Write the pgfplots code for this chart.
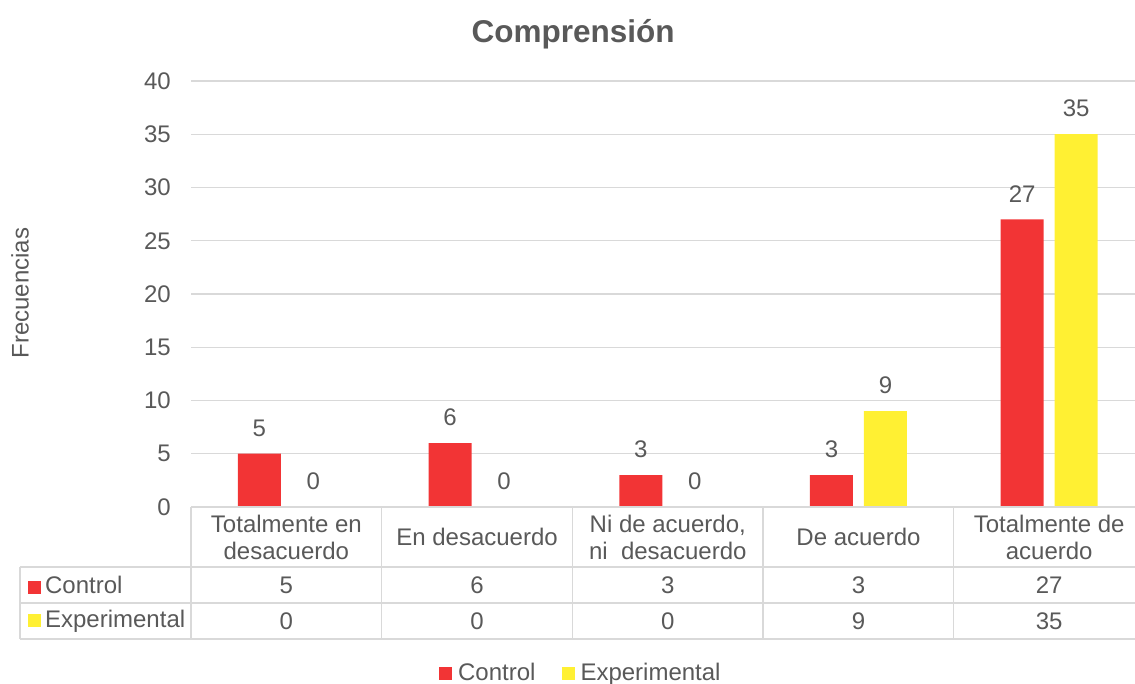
\documentclass[border=0pt]{standalone}
\usepackage{pgfplots}
\pgfplotsset{compat=1.18}
\usepackage{pgfplotstable}
\usepackage{fontspec}
\setmainfont{Liberation Sans}

\definecolor{ctrl}{RGB}{242,52,53}
\definecolor{expt}{RGB}{255,240,51}
\definecolor{txt}{RGB}{89,89,89}
\definecolor{rule}{RGB}{217,217,217}

\pgfplotstableread{
x control expt
0 5  0
1 6  0
2 3  0
3 3  9
4 27 35
}\datatable

% table geometry in axis units (1 unit = 10.65pt, one category = 190.7pt)
\def\rowA{-5.634}
\def\rowB{-9.014}
\def\rowC{-12.394}
\def\colL{-1.397}

\begin{document}
\begin{tikzpicture}
\path[use as bounding box] (0,0) rectangle (1135pt,684pt);
\begin{axis}[
    at={(191pt,177pt)}, anchor=south west,
    scale only axis,
    width=944pt, height=426pt,
    xmin=-0.5, xmax=4.45,
    ymin=0, ymax=40,
    ytick={0,5,...,40},
    xtick={0,...,4},
    xticklabels={{Totalmente en\\desacuerdo},{En desacuerdo},{Ni de acuerdo,\\ni\ \ desacuerdo},{De acuerdo},{Totalmente de\\acuerdo}},
    axis line style={draw=none},
    major tick length=0pt,
    ymajorgrids,
    grid style={draw=rule, line width=1.3pt},
    font=\fontsize{24}{27}\selectfont,
    tick label style={text=txt},
    /pgf/number format/assume math mode=true,
    yticklabel style={anchor=east, inner sep=0pt, xshift=-20pt},
    xticklabel style={align=center, anchor=center, inner sep=0pt, yshift=-30pt},
    title={Comprensión},
    title style={at={(rel axis cs:0.4047,1.0962)}, anchor=center, text=txt, font=\fontsize{31.5}{36}\selectfont\bfseries},
    ylabel={Frecuencias},
    ylabel style={at={(rel axis cs:-0.181,0.502)}, anchor=center, rotate=0, text=txt},
    clip=false,
    bar width=43pt,
    legend columns=2,
    legend style={at={(rel axis cs:0.413,-0.388)}, anchor=center, draw=none, text=txt,
      font=\fontsize{24}{27}\selectfont,
      /tikz/every odd column/.append style={column sep=0pt},
      /tikz/every even column/.append style={column sep=24pt}},
    legend image code/.code={\fill[#1] (0pt,-8pt) rectangle (13pt,5pt); \path (17pt,0pt);},
  ]
  \addplot[ybar, bar shift=-27pt, fill=ctrl, draw=none, nodes near coords,
    nodes near coords style={text=txt, anchor=south, inner sep=0pt, yshift=17pt, xshift=-27pt}]
    table[x=x, y=control] {\datatable};
  \addlegendentry{Control}
  \addplot[ybar, bar shift=27pt, fill=expt, draw=none, nodes near coords,
    nodes near coords style={text=txt, anchor=south, inner sep=0pt, yshift=17pt, xshift=27pt}]
    table[x=x, y=expt] {\datatable};
  \addlegendentry{Experimental}

  % data table values
  \addplot[draw=none, mark=none, forget plot, point meta=explicit,
    nodes near coords, nodes near coords style={text=txt, anchor=center}]
    table[x=x, y expr=-7.324, meta=control] {\datatable};
  \addplot[draw=none, mark=none, forget plot, point meta=explicit,
    nodes near coords, nodes near coords style={text=txt, anchor=center}]
    table[x=x, y expr=-10.704, meta=expt] {\datatable};

  % table borders
  \draw[rule, line width=1.3pt]
    (axis cs:-0.5,0) -- (axis cs:4.6,0)
    (axis cs:\colL,\rowA) -- (axis cs:4.6,\rowA)
    (axis cs:\colL,\rowB) -- (axis cs:4.6,\rowB)
    (axis cs:\colL,\rowC) -- (axis cs:4.6,\rowC)
    (axis cs:\colL,\rowA) -- (axis cs:\colL,\rowC)
    (axis cs:-0.5,0) -- (axis cs:-0.5,\rowC)
    (axis cs:0.5,0) -- (axis cs:0.5,\rowC)
    (axis cs:1.5,0) -- (axis cs:1.5,\rowC)
    (axis cs:2.5,0) -- (axis cs:2.5,\rowC)
    (axis cs:3.5,0) -- (axis cs:3.5,\rowC);
  \node[anchor=west, text=txt, inner sep=0pt] at (axis cs:-1.355,-7.324)
    {\textcolor{ctrl}{\rule[0pt]{13pt}{13pt}}\,Control};
  \node[anchor=west, text=txt, inner sep=0pt] at (axis cs:-1.355,-10.704)
    {\textcolor{expt}{\rule[0pt]{13pt}{13pt}}\,Experimental};
\end{axis}
\end{tikzpicture}
\end{document}
